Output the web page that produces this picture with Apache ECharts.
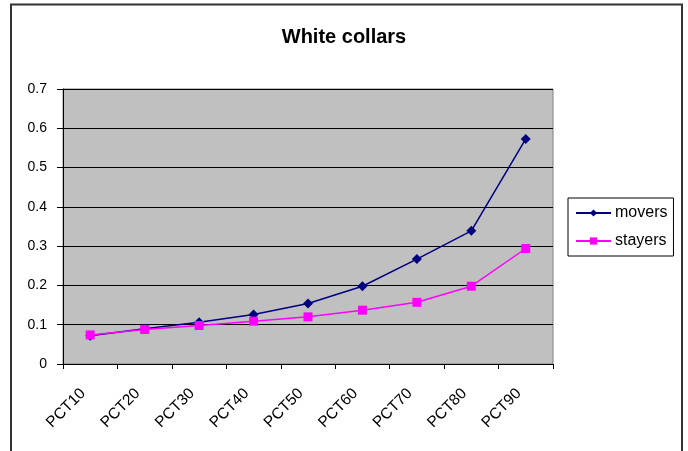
<!DOCTYPE html>
<html>
<head>
<meta charset="utf-8">
<script src="https://cdn.jsdelivr.net/npm/echarts@6/dist/echarts.min.js"></script>
<style>
html,body{margin:0;padding:0;background:#fff;}
#c{width:688px;height:451px;}
</style>
</head>
<body>
<div id="c"></div>
<script>
var categories = ['PCT10','PCT20','PCT30','PCT40','PCT50','PCT60','PCT70','PCT80','PCT90'];
var movers = [0.072, 0.090, 0.106, 0.126, 0.154, 0.198, 0.267, 0.339, 0.573];
var stayers = [0.074, 0.088, 0.098, 0.109, 0.120, 0.137, 0.157, 0.198, 0.294];
var yTicks = [0, 0.1, 0.2, 0.3, 0.4, 0.5, 0.6, 0.7];

var FONT = '"Liberation Sans", Arial, sans-serif';
var chart = echarts.init(document.getElementById('c'), null, {renderer: 'canvas'});
chart.setOption({
  animation: false,
  backgroundColor: '#ffffff',
  title: {
    text: 'White collars',
    left: 'center',
    top: 22,
    textStyle: {fontFamily: FONT, fontSize: 20, fontWeight: 'bold', color: '#000'}
  },
  graphic: [{
    type: 'rect',
    shape: {x: 11, y: 4.5, width: 671, height: 470},
    style: {fill: 'none', stroke: '#333', lineWidth: 2},
    silent: true,
    z: 100
  }],
  legend: {
    orient: 'vertical',
    left: 568,
    top: 198,
    padding: [7, 6, 7, 7],
    itemGap: 12,
    itemWidth: 35,
    itemHeight: 9,
    borderColor: '#000',
    borderWidth: 1,
    backgroundColor: '#fff',
    textStyle: {fontFamily: FONT, fontSize: 16, color: '#000', lineHeight: 16, padding: [0,0,0,-1]},
    data: ['movers', 'stayers']
  },
  grid: {
    left: 63, top: 89, right: 135, bottom: 87,
    show: true,
    backgroundColor: '#C0C0C0',
    borderColor: '#808080',
    borderWidth: 1
  },
  xAxis: {
    type: 'category',
    data: categories,
    boundaryGap: true,
    axisLine: {lineStyle: {color: '#000', width: 1}},
    axisTick: {show: true, inside: false, length: 5, alignWithLabel: false, lineStyle: {color: '#000'}},
    axisLabel: {
      rotate: 45, margin: 20, interval: 0,
      padding: [0, 10, 0, 0],
      fontFamily: FONT, fontSize: 15.5, color: '#000'
    },
    splitLine: {show: false}
  },
  yAxis: {
    type: 'value',
    min: yTicks[0],
    max: yTicks[yTicks.length - 1],
    interval: 0.1,
    axisLine: {show: true, lineStyle: {color: '#000', width: 1}},
    axisTick: {show: true, inside: false, length: 6, lineStyle: {color: '#000'}},
    axisLabel: {
      margin: 16, fontFamily: FONT, fontSize: 14, color: '#000',
      formatter: function (v) { return String(Math.round(v * 10) / 10); }
    },
    splitLine: {show: true, lineStyle: {color: '#000', width: 1}}
  },
  series: [
    {
      name: 'movers',
      type: 'line',
      data: movers,
      symbol: 'diamond',
      symbolSize: 10,
      lineStyle: {color: '#000080', width: 1.5},
      itemStyle: {color: '#000080'},
      z: 3
    },
    {
      name: 'stayers',
      type: 'line',
      data: stayers,
      symbol: 'rect',
      symbolSize: 9,
      lineStyle: {color: '#FF00FF', width: 1.5},
      itemStyle: {color: '#FF00FF'},
      z: 4
    }
  ]
});
</script>
</body>
</html>
